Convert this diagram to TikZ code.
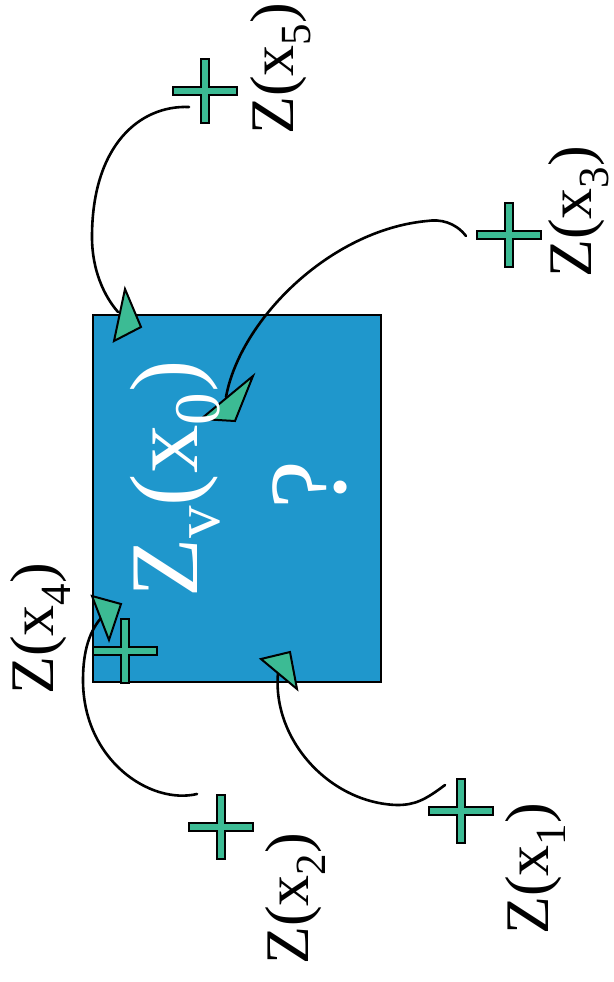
\documentclass[tikz,border=0pt]{standalone}
\usepackage{fontspec}
\setmainfont{Liberation Serif}
\definecolor{boxblue}{RGB}{31,151,204}
\definecolor{crossgreen}{RGB}{60,187,148}
\newcommand{\lsub}[1]{\raisebox{-17pt}[0pt][0pt]{\fontsize{43}{43}\selectfont #1}}
\newcommand{\bsub}[1]{\raisebox{-22pt}{\fontsize{65}{65}\selectfont #1}}
\tikzset{
  plus/.pic={\draw[line width=2pt, fill=crossgreen] (-4,-32) -- (4,-32) -- (4,-4) -- (32,-4) -- (32,4) -- (4,4) -- (4,32) -- (-4,32) -- (-4,4) -- (-32,4) -- (-32,-4) -- (-4,-4) -- cycle;},
  curve/.style={line width=2.6pt, line cap=round},
  head/.style={draw, line width=2pt, fill=crossgreen, line join=miter},
  lbl/.style={rotate=90, anchor=base west, inner sep=0pt, font=\fontsize{62}{62}\selectfont},
  big/.style={rotate=90, anchor=base west, inner sep=0pt, text=white, font=\fontsize{97}{97}\selectfont},
  qmark/.style={rotate=90, anchor=base west, inner sep=0pt, text=white, font=\fontsize{110}{110}\selectfont},
  bluebox/.style={draw, line width=2.6pt, fill=boxblue, inner sep=0pt, minimum width=288pt, minimum height=367pt},
}
\begin{document}
\begin{tikzpicture}[x=1pt, y=-1pt]
\useasboundingbox (0,0) rectangle (613,982);
% box
\node[bluebox] (box) at (237,498.5) {};
% curve end points
\coordinate (s5) at (189,107);  \coordinate (e5) at (118,312);
\coordinate (s3) at (466,236);  \coordinate (e3) at (226,397);
\coordinate (s4) at (197,794);  \coordinate (e4) at (102,617);
\coordinate (s1) at (445,785);  \coordinate (e1) at (278,673);
% curves
\draw[curve] (s5) .. controls (140,105) and (92,145) .. (92,237) .. controls (92,270) and (104,296) .. (e5);
\draw[curve] (s3) .. controls (455,222) and (440,219) .. (427,221) .. controls (330,230) and (240,320) .. (e3);
\draw[curve] (s4) .. controls (150,805) and (83,760) .. (83,680) .. controls (83,650) and (90,630) .. (e4);
\draw[curve] (s1) .. controls (425,800) and (415,805) .. (397,805) .. controls (330,803) and (272,740) .. (e1);
% arrow heads
\draw[head] (125,289) -- (141,327) -- (114,341) -- cycle;
\draw[head] (253,376) -- (201,419) -- (235,421) -- cycle;
\draw[head] (92,596) -- (121,604) -- (109,640) -- cycle;
\draw[head] (261,659) -- (290,652) -- (297,689) -- cycle;
% crosses
\pic (c5) at (205,91) {plus};
\pic (c3) at (509,235) {plus};
\pic (c4) at (125,651) {plus};
\pic (c2) at (221,827) {plus};
\pic (c1) at (461,811) {plus};
% labels
\node[lbl] (l5) at (293,135) {Z(x\lsub{5})};
\node[lbl] (l3) at (591,278) {Z(x\lsub{3})};
\node[lbl] (l4) at (53,695) {Z(x\lsub{4})};
\node[lbl] (l2) at (308,965) {Z(x\lsub{2})};
\node[lbl] (l1) at (548,935) {Z(x\lsub{1})};
% box text
\node[big] (zv) at (197,598) {Z\bsub{v}(x\bsub{0})};
\node[qmark] (q) at (345,510) {?};
\end{tikzpicture}
\end{document}
